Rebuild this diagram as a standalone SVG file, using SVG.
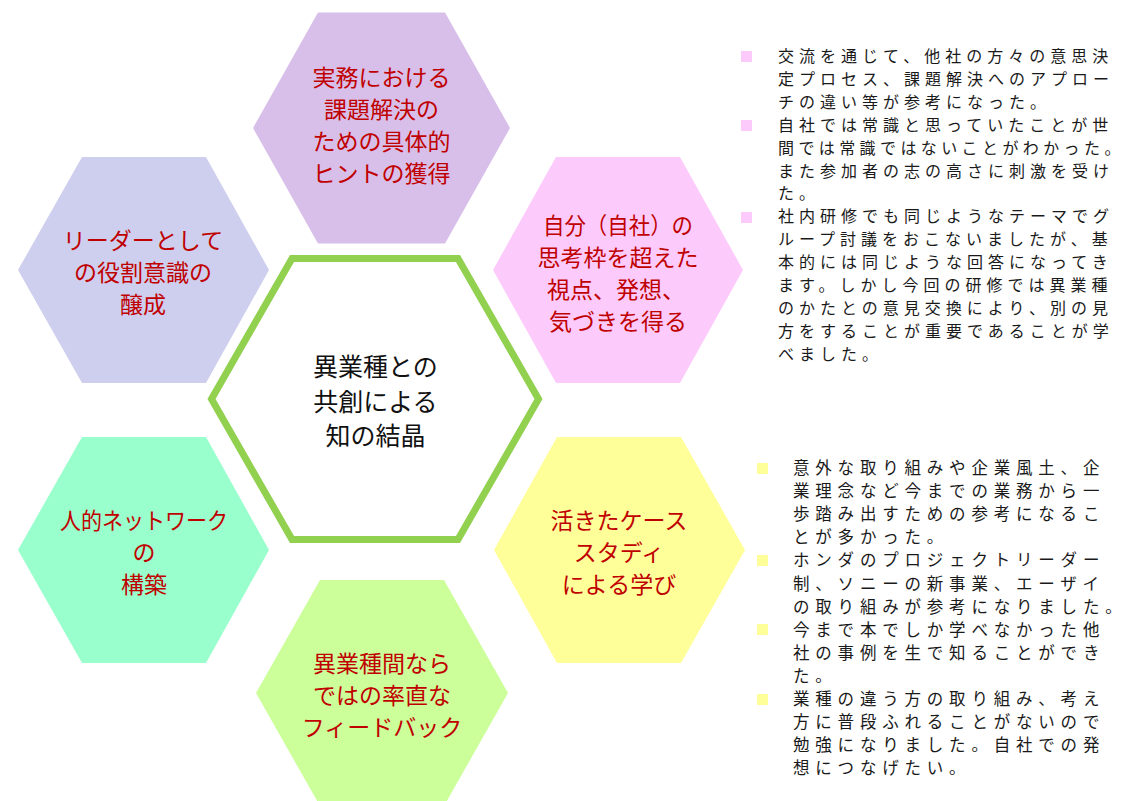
<svg xmlns="http://www.w3.org/2000/svg" width="1126" height="801" viewBox="0 0 1126 801">
<style>
.lbl{font-family:"Noto Sans CJK JP","Noto Sans CJK SC",sans-serif;font-size:23px;fill:#C00000;text-anchor:middle}
.ctr{font-family:"Noto Sans CJK JP","Noto Sans CJK SC",sans-serif;font-size:25px;fill:#111;text-anchor:middle}
.note{font-family:"Noto Sans CJK JP","Noto Sans CJK SC",sans-serif;font-size:16px;fill:#1a1a1a;letter-spacing:5px}
.note2{font-family:"Noto Sans CJK JP","Noto Sans CJK SC",sans-serif;font-size:16.5px;fill:#1a1a1a;letter-spacing:5.8px}
</style>
<rect width="1126" height="801" fill="#ffffff"/>
<g id="node-top">
<polygon points="318,12.5 445,12.5 510,128 445,243.5 318,243.5 253,128" fill="#D8BFE9"/>
<text class="lbl"><tspan x="381.5" y="86">実務における</tspan><tspan x="381.5" y="118">課題解決の</tspan><tspan x="381.5" y="150">ための具体的</tspan><tspan x="381.5" y="182">ヒントの獲得</tspan></text>
</g>
<g id="node-upper-right">
<polygon points="556,157 680,157 743,270 680,383 556,383 493,270" fill="#FCCBFC"/>
<text class="lbl"><tspan x="618" y="234" textLength="150" lengthAdjust="spacingAndGlyphs">自分（自社）の</tspan><tspan x="618" y="266">思考枠を超えた</tspan><tspan x="616" y="298">視点、発想、</tspan><tspan x="618" y="330">気づきを得る</tspan></text>
</g>
<g id="node-upper-left">
<polygon points="82,157 206,157 269,270 206,383 82,383 18,270" fill="#CECFEE"/>
<text class="lbl"><tspan x="143" y="249">リーダーとして</tspan><tspan x="143" y="281">の役割意識の</tspan><tspan x="143" y="313">醸成</tspan></text>
</g>
<g id="node-lower-left">
<polygon points="82,437 206,437 269,550 206,663 82,663 18,550" fill="#99FFCC"/>
<text class="lbl"><tspan x="144" y="529" textLength="168" lengthAdjust="spacingAndGlyphs">人的ネットワーク</tspan><tspan x="144" y="561">の</tspan><tspan x="144" y="593">構築</tspan></text>
</g>
<g id="node-lower-right">
<polygon points="557,437 681,437 745,550 681,663 557,663 494,550" fill="#FFFF99"/>
<text class="lbl"><tspan x="619" y="529">活きたケース</tspan><tspan x="619" y="561">スタディ</tspan><tspan x="619" y="593">による学び</tspan></text>
</g>
<g id="node-bottom">
<polygon points="320,580 444,580 508,693 444,806 320,806 256,693" fill="#CCFF99"/>
<text class="lbl"><tspan x="382" y="672">異業種間なら</tspan><tspan x="382" y="704">ではの率直な</tspan><tspan x="382" y="736">フィードバック</tspan></text>
</g>
<g id="node-center">
<polygon points="292,258.5 458,258.5 538.5,399 458,539.5 292,539.5 211.5,399" fill="#ffffff" stroke="#92D050" stroke-width="7"/>
<text class="ctr"><tspan x="375.5" y="376">異業種との</tspan><tspan x="375.5" y="411">共創による</tspan><tspan x="375.5" y="445">知の結晶</tspan></text>
</g>
<g id="notes-pink">
<rect x="741" y="51" width="11" height="11" fill="#FCCBFC"/>
<rect x="741" y="120" width="11" height="11" fill="#FCCBFC"/>
<rect x="741" y="212" width="11" height="11" fill="#FCCBFC"/>
<text class="note">
<tspan x="778" y="62">交流を通じて、他社の方々の意思決</tspan>
<tspan x="778" dy="22.9">定プロセス、課題解決へのアプロー</tspan>
<tspan x="778" dy="22.9">チの違い等が参考になった。</tspan>
<tspan x="778" dy="22.9">自社では常識と思っていたことが世</tspan>
<tspan x="778" dy="22.9" style="letter-spacing:4.4px">間では常識ではないことがわかった。</tspan>
<tspan x="778" dy="22.9">また参加者の志の高さに刺激を受け</tspan>
<tspan x="778" dy="22.9">た。</tspan>
<tspan x="778" dy="22.9">社内研修でも同じようなテーマでグ</tspan>
<tspan x="778" dy="22.9">ループ討議をおこないましたが、基</tspan>
<tspan x="778" dy="22.9">本的には同じような回答になってき</tspan>
<tspan x="778" dy="22.9">ます。しかし今回の研修では異業種</tspan>
<tspan x="778" dy="22.9">のかたとの意見交換により、別の見</tspan>
<tspan x="778" dy="22.9">方をすることが重要であることが学</tspan>
<tspan x="778" dy="22.9">べました。</tspan>
</text>
</g>
<g id="notes-yellow">
<rect x="757" y="463" width="11" height="11" fill="#FFFF99"/>
<rect x="757" y="555" width="11" height="11" fill="#FFFF99"/>
<rect x="757" y="624" width="11" height="11" fill="#FFFF99"/>
<rect x="757" y="694" width="11" height="11" fill="#FFFF99"/>
<text class="note2">
<tspan x="793" y="474">意外な取り組みや企業風土、企</tspan>
<tspan x="793" dy="23.1">業理念など今までの業務から一</tspan>
<tspan x="793" dy="23.1">歩踏み出すための参考になるこ</tspan>
<tspan x="793" dy="23.1">とが多かった。</tspan>
<tspan x="793" dy="23.1">ホンダのプロジェクトリーダー</tspan>
<tspan x="793" dy="23.1">制、ソニーの新事業、エーザイ</tspan>
<tspan x="793" dy="23.1">の取り組みが参考になりました。</tspan>
<tspan x="793" dy="23.1">今まで本でしか学べなかった他</tspan>
<tspan x="793" dy="23.1">社の事例を生で知ることができ</tspan>
<tspan x="793" dy="23.1">た。</tspan>
<tspan x="793" dy="23.1">業種の違う方の取り組み、考え</tspan>
<tspan x="793" dy="23.1">方に普段ふれることがないので</tspan>
<tspan x="793" dy="23.1">勉強になりました。自社での発</tspan>
<tspan x="793" dy="23.1">想につなげたい。</tspan>
</text>
</g>
<g id="connectors"/>
</svg>
